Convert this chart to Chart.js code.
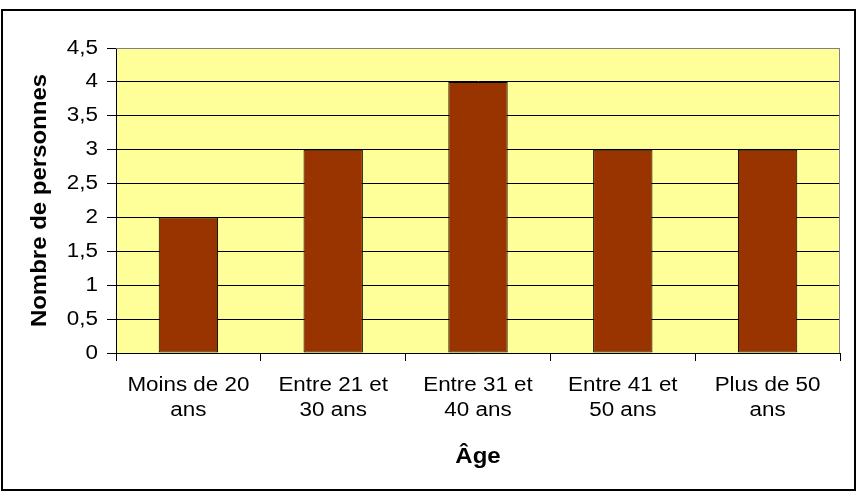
<!DOCTYPE html>
<html>
<head>
<meta charset="utf-8">
<script src="https://cdn.jsdelivr.net/npm/chart.js@4/dist/chart.umd.min.js"></script>
<style>
html,body{margin:0;padding:0;background:#fff;}
canvas{display:block;}
</style>
</head>
<body>
<canvas id="c" width="865" height="492"></canvas>
<script>
const categories = [["Moins de 20","ans"],["Entre 21 et","30 ans"],["Entre 31 et","40 ans"],["Entre 41 et","50 ans"],["Plus de 50","ans"]];
const values = [2, 3, 4, 3, 3];
const yMin = 0, yMax = 4.5, yStep = 0.5;
const xTitle = "Âge";
const yTitle = "Nombre de personnes";

const FONT = "'Liberation Sans', Arial, sans-serif";

const canvas = document.getElementById('c');
const cx = canvas.getContext('2d');
// the reference's lettering is slightly wider than the font: widen it a bit
const origFill = cx.fillText.bind(cx);
cx.fillText = function (t, x, y) {
  const sx = /bold/.test(this.font) ? 1.09 : 1.12;
  this.save();
  this.translate(x, y);
  this.scale(sx, 1);
  origFill(t, 0, 0);
  this.restore();
};

const frame = {
  id: 'frame',
  beforeDraw(chart) {
    const {ctx, chartArea: a} = chart;
    ctx.save();
    ctx.fillStyle = '#FFFF99';
    ctx.fillRect(a.left, a.top, a.right - a.left, a.bottom - a.top);
    ctx.restore();
  },
  afterDraw(chart) {
    const {ctx, chartArea: a} = chart;
    ctx.save();
    ctx.strokeStyle = '#808080';
    ctx.lineWidth = 1;
    ctx.beginPath();
    ctx.moveTo(a.left, a.top + 0.5);
    ctx.lineTo(a.right - 0.5, a.top + 0.5);
    ctx.lineTo(a.right - 0.5, a.bottom);
    ctx.stroke();
    ctx.strokeStyle = '#000';
    ctx.lineWidth = 2;
    ctx.strokeRect(2, 10, 853, 480);
    ctx.restore();
  }
};

new Chart(canvas, {
  type: 'bar',
  data: {
    labels: categories,
    datasets: [{
      data: values,
      backgroundColor: '#993300',
      borderColor: '#000000',
      borderWidth: 1,
      borderSkipped: false,
      categoryPercentage: 0.41,
      barPercentage: 1
    }]
  },
  options: {
    responsive: false,
    animation: false,
    layout: {padding: {top: 48, right: 25, left: 0, bottom: 0}},
    plugins: {legend: {display: false}, tooltip: {enabled: false}},
    scales: {
      x: {
        grid: {display: true, drawOnChartArea: false, drawTicks: true, tickLength: 8, color: '#000', offset: true},
        border: {display: true, color: '#000', width: 1},
        ticks: {color: '#000', font: {family: FONT, size: 20, lineHeight: 1.25}, padding: 12, maxRotation: 0, autoSkip: false},
        title: {display: true, text: xTitle, color: '#000', font: {family: FONT, size: 22, weight: 'bold', lineHeight: 1.2}, padding: {top: 0, bottom: 22}},
        afterFit(s) { s.height = 139; }
      },
      y: {
        min: yMin, max: yMax,
        grid: {color: (c) => (c.tick && c.tick.value === yMax) ? '#808080' : '#000', tickColor: '#000', tickLength: 9, drawTicks: true},
        border: {display: true, color: '#000', width: 1},
        ticks: {stepSize: yStep, color: '#000', font: {family: FONT, size: 20}, padding: 9,
          callback: (v) => String(v).replace('.', ',')},
        title: {display: true, text: yTitle, color: '#000', font: {family: FONT, size: 22, weight: 'bold', lineHeight: 1.2}, padding: {top: 27, bottom: 0}},
        afterFit(s) { s.width = 116; }
      }
    }
  },
  plugins: [frame]
});
</script>
</body>
</html>
